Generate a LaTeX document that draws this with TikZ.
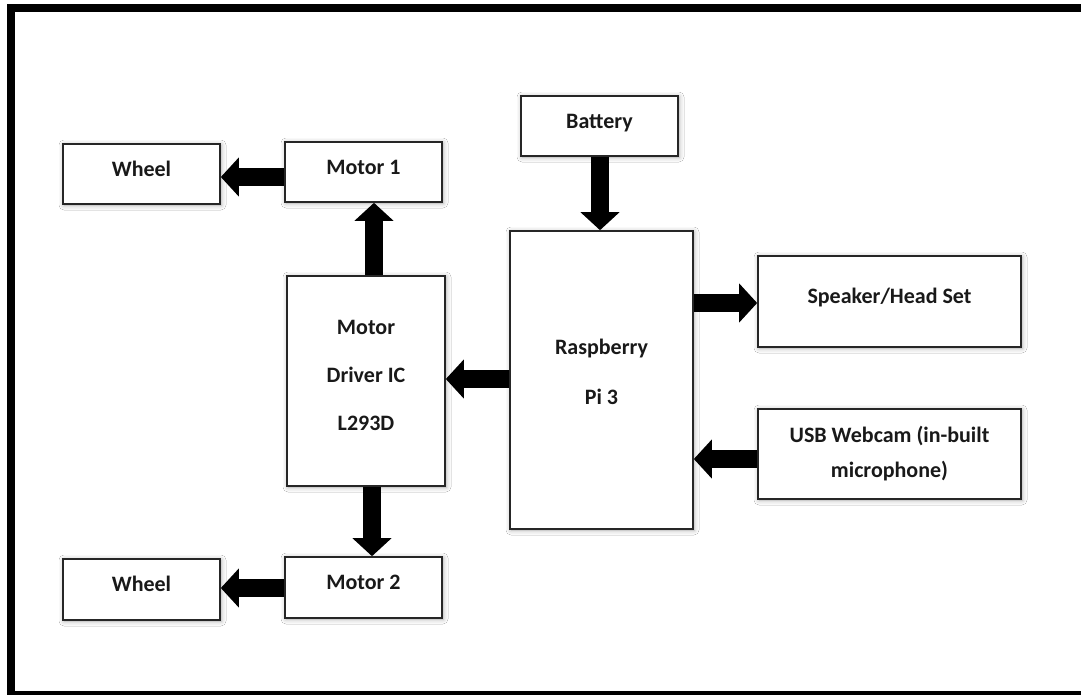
\documentclass[tikz,border=0pt]{standalone}
\usepackage{fontspec}
\setmainfont{Carlito}
\usetikzlibrary{arrows.meta,shadows.blur}
\begin{document}
\begin{tikzpicture}[x=1pt,y=-1pt,
  blk/.style={draw=black!85, line width=1.6pt, fill=white, inner sep=0pt,
    font=\fontsize{22}{26}\selectfont\bfseries, text=black!90, align=center,
    blur shadow={shadow xshift=1pt, shadow yshift=-1pt, shadow blur radius=5pt, shadow opacity=35}},
  one/.style={text height=10pt, text depth=5.4pt},
  bigarrow/.style={line width=18pt, -{Triangle[length=18pt,width=38pt]}}]
\useasboundingbox (0,0) rectangle (1081,694);
\clip (0,0) rectangle (1081,694);
\fill[white] (0,0) rectangle (1081,694);
\draw[line width=8pt] (11,8) rectangle (1100,695);

\node[blk, one, minimum width=157pt, minimum height=60pt] (w1) at (141.5,174) {Wheel};
\node[blk, one, minimum width=157pt, minimum height=60pt] (m1) at (363.5,172) {Motor 1};
\node[blk, minimum width=158pt, minimum height=210pt] (drv) at (366,381)
  {\fontsize{22}{48}\selectfont\raisebox{3pt}[0pt][0pt]{\begin{tabular}{@{}c@{}}Motor\\Driver IC\\L293D\end{tabular}}};
\node[blk, one, minimum width=157pt, minimum height=61pt] (m2) at (363.5,587.5) {Motor 2};
\node[blk, one, minimum width=157pt, minimum height=61pt] (w2) at (141.5,589.5) {Wheel};
\node[blk, one, minimum width=157pt, minimum height=60pt] (bat) at (599.5,126) {Battery};
\node[blk, minimum width=183pt, minimum height=298pt] (pi) at (601.5,380)
  {\fontsize{22}{50}\selectfont\raisebox{5pt}[0pt][0pt]{\begin{tabular}{@{}c@{}}Raspberry\\Pi 3\end{tabular}}};
\node[blk, one, minimum width=263pt, minimum height=91pt] (spk) at (889.5,301.5) {Speaker/Head Set};
\node[blk, minimum width=263pt, minimum height=90pt, font=\fontsize{22}{35}\selectfont\bfseries] (usb) at (889.5,454) {USB Webcam (in-built\\microphone)};

\draw[bigarrow] ([yshift=-5pt]m1.west) -- ([yshift=-3pt]w1.east);
\draw[bigarrow] ([xshift=8pt]drv.north) -- ([xshift=10.5pt]m1.south);
\draw[bigarrow] ([yshift=1pt]pi.west) -- ([yshift=2pt]drv.east);
\draw[bigarrow] ([xshift=0.5pt]bat.south) -- ([xshift=-1.5pt]pi.north);
\draw[bigarrow] ([yshift=77pt]pi.east) -- ([yshift=-1.5pt]spk.west);
\draw[bigarrow] ([yshift=-5pt]usb.west) -- ([yshift=-79pt]pi.east);
\draw[bigarrow] ([xshift=6pt]drv.south) -- ([xshift=8.5pt]m2.north);
\draw[bigarrow] ([yshift=-0.5pt]m2.west) -- ([yshift=1.5pt]w2.east);
\end{tikzpicture}
\end{document}
